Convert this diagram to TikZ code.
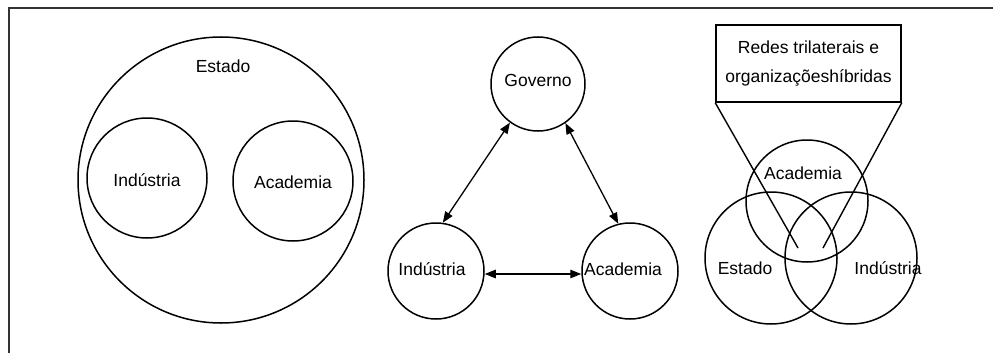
\documentclass[tikz,border=0pt]{standalone}
\usepackage{fontspec}
\setmainfont{Liberation Sans}
\usetikzlibrary{arrows.meta}
\begin{document}
\begin{tikzpicture}[x=1pt,y=-1pt,
  every node/.style={font=\fontsize{17.5}{21}\selectfont},
  ring/.style={draw,circle,line width=1.5pt,inner sep=0pt},
  lbl/.style={inner sep=0pt},
  biarrow/.style={line width=1.3pt,{Triangle[length=11pt,width=8.5pt]}-{Triangle[length=11pt,width=8.5pt]}},
  callout/.style={line width=1.4pt},
  frameline/.style={line width=1.5pt,draw=black!80}]
\useasboundingbox (0,0) rectangle (993,353);
% frame
\draw[frameline] (9,360) -- (9,8) -- (1000,8);
% left diagram
\node[ring,minimum size=286pt] (estA) at (221,180) {};
\node[lbl] (estAl) at (223,66) {Estado};
\node[ring,minimum size=120pt] (indA) at (147,178) {};
\node[lbl] at (147,180) {Indústria};
\node[ring,minimum size=120pt] (acaA) at (293,181) {};
\node[lbl] at (293,182) {Academia};
% middle diagram
\node[ring,minimum size=94pt] (gov) at (538,84) {};
\node[lbl] at (538,80) {Governo};
\node[ring,minimum size=96pt] (indB) at (436,271) {};
\node[lbl] at (432,269) {Indústria};
\node[ring,minimum size=96pt] (acaB) at (630,271) {};
\node[lbl] at (623,269) {Academia};
\draw[biarrow] (gov.234) -- (indB.82);
\draw[biarrow] (gov.305) -- (acaB.104);
\path (indB.east) ++(0,3) coordinate (hA) (acaB.west) ++(0,3) coordinate (hB);
\draw[biarrow] (hA) -- (hB);
% right diagram
\node[ring,minimum size=122pt] (acaC) at (807,201) {};
\node[ring,minimum size=132pt] (estC) at (771,258) {};
\node[ring,minimum size=132pt] (indC) at (851,258) {};
\node[lbl] at (803,173) {Academia};
\node[lbl] at (745,268) {Estado};
\node[lbl] at (888,268) {Indústria};
\node[draw,line width=1.5pt,minimum width=185pt,minimum height=77pt,inner sep=0pt,align=center,
  font=\fontsize{17.5}{29}\selectfont] (box) at (808.5,63.5)
  {Redes trilaterais e\\organizaçõeshíbridas};
\coordinate (tipL) at (798,248);
\coordinate (tipR) at (823,248);
\draw[callout] (box.south west) -- (tipL);
\draw[callout] (box.south east) -- (tipR);
\end{tikzpicture}
\end{document}
